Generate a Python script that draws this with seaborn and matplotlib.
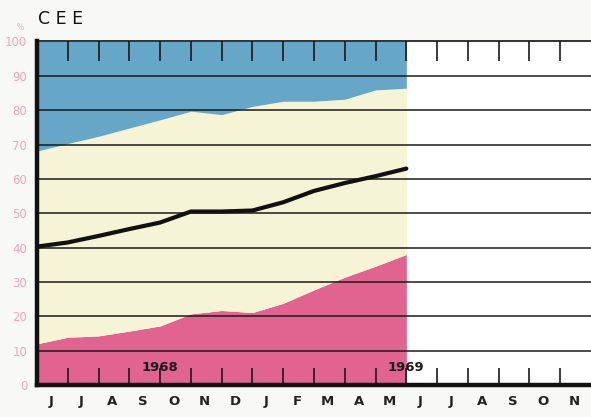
import matplotlib
matplotlib.use("Agg")
import matplotlib.pyplot as plt
import seaborn as sns
import pandas as pd

# months from June 1968 to May 1969 (index 0..12 = month boundaries)
month_idx = [0, 1, 2, 3, 4, 5, 6, 7, 8, 9, 10, 11, 12]
pink_top = [12.0, 13.9, 14.3, 15.7, 17.2, 20.7, 21.7, 21.1, 23.8, 27.7, 31.4, 34.6, 38.0]
blue_bottom = [68.1, 70.3, 72.4, 74.8, 77.2, 79.7, 78.7, 81.1, 82.6, 82.6, 83.2, 85.9, 86.4]
line_vals = [40.3, 41.5, 43.4, 45.4, 47.3, 50.5, 50.5, 50.8, 53.2, 56.5, 58.8, 60.8, 63.0]

month_labels = ["J", "J", "A", "S", "O", "N", "D", "J", "F", "M", "A", "M",
                "J", "J", "A", "S", "O", "N"]
years = ["1968", "1969"]
year_pos = [4, 12]
y_ticks = [0, 10, 20, 30, 40, 50, 60, 70, 80, 90, 100]

df = pd.DataFrame({"m": month_idx, "pink": pink_top, "blue": blue_bottom, "val": line_vals})

sns.set_style("white")
plt.rcParams['font.family'] = ['DejaVu Sans']

fig = plt.figure(figsize=(5.91, 4.17), dpi=100, facecolor="#f8f8f6")
ax = fig.add_axes([0.0626, 0.0767, 0.9374, 0.8238])
ax.set_facecolor("white")

c_pink = "#e0648f"
c_cream = "#f6f4d6"
c_blue = "#66a7c8"

ax.fill_between(df["m"], 0, df["pink"], color=c_pink, lw=0, zorder=1)
ax.fill_between(df["m"], df["pink"], df["blue"], color=c_cream, lw=0, zorder=1)
ax.fill_between(df["m"], df["blue"], 100, color=c_blue, lw=0, zorder=1)

# horizontal rules
for yv in y_ticks[1:-1]:
    ax.axhline(yv, color="#1a1a1a", lw=1.1, zorder=2)

sns.lineplot(data=df, x="m", y="val", color="#111111", lw=3.0, ax=ax, zorder=4)

# tick marks at month boundaries
n_months = len(month_labels)
bounds = list(range(1, n_months))
ax.vlines(bounds, 0, 5, color="#1a1a1a", lw=1.2, zorder=3)
ax.vlines(bounds, 94.2, 100, color="#1a1a1a", lw=1.2, zorder=3)

ax.set_xlim(0, n_months)
ax.set_ylim(0, 100)

for s in ["right"]:
    ax.spines[s].set_visible(False)
ax.spines["left"].set_linewidth(3.2)
ax.spines["bottom"].set_linewidth(3.2)
ax.spines["top"].set_linewidth(1.2)
for s in ["left", "bottom", "top"]:
    ax.spines[s].set_color("#111111")
    ax.spines[s].set_zorder(5)

ax.set_yticks(y_ticks)
ax.set_yticklabels([str(v) for v in y_ticks], color="#f0a3c3", fontsize=8.5)
ax.tick_params(axis="y", length=0, pad=7)

ax.set_xticks([i + 0.45 for i in range(n_months)])
ax.set_xticklabels(month_labels, fontsize=9.5, fontweight="bold", color="#222222")
ax.tick_params(axis="x", length=0, pad=7)
ax.set_xlabel("")
ax.set_ylabel("")

for yr, xp in zip(years, year_pos):
    ax.text(xp, 5.2, yr, ha="center", va="center", fontsize=9.5,
            fontweight="bold", color="#1a1a1a", zorder=6)

fig.text(0.034, 0.935, "%", color="#f0a3c3", fontsize=5.5, ha="center", va="center")
fig.text(0.064, 0.955, "C E E", color="#111111", fontsize=12.5, ha="left", va="center")

fig.savefig("out.png", dpi=100, facecolor=fig.get_facecolor())
